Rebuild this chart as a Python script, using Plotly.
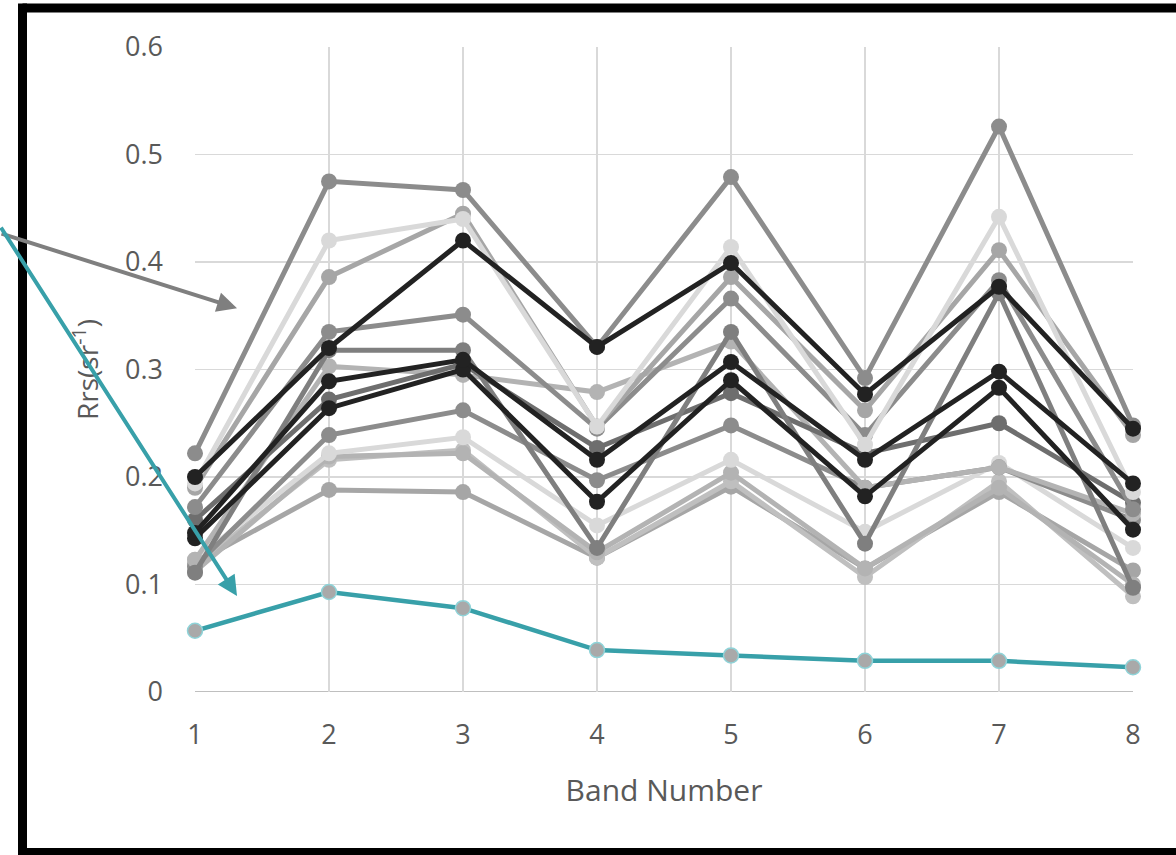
import plotly.graph_objects as go

bands = [1, 2, 3, 4, 5, 6, 7, 8]
y_ticks = [0, 0.1, 0.2, 0.3, 0.4, 0.5, 0.6]
y_tick_labels = ["0", "0.1", "0.2", "0.3", "0.4", "0.5", "0.6"]

s01 = [0.222, 0.475, 0.467, 0.321, 0.479, 0.292, 0.526, 0.248]
s02 = [0.200, 0.320, 0.420, 0.321, 0.399, 0.277, 0.377, 0.245]
s03 = [0.194, 0.420, 0.440, 0.247, 0.414, 0.230, 0.442, 0.186]
s04 = [0.190, 0.386, 0.445, 0.247, 0.386, 0.262, 0.411, 0.239]
s05 = [0.172, 0.335, 0.351, 0.245, 0.366, 0.239, 0.383, 0.170]
s06 = [0.111, 0.318, 0.318, 0.134, 0.335, 0.138, 0.371, 0.097]
s07 = [0.148, 0.289, 0.309, 0.216, 0.307, 0.216, 0.298, 0.194]
s08 = [0.143, 0.264, 0.300, 0.177, 0.290, 0.182, 0.283, 0.151]
s09 = [0.160, 0.272, 0.305, 0.227, 0.278, 0.222, 0.250, 0.176]
s10 = [0.123, 0.303, 0.295, 0.279, 0.326, 0.190, 0.209, 0.166]
s11 = [0.117, 0.239, 0.262, 0.197, 0.248, 0.190, 0.209, 0.160]
s12 = [0.123, 0.222, 0.237, 0.155, 0.216, 0.149, 0.213, 0.134]
s13 = [0.117, 0.216, 0.225, 0.125, 0.196, 0.107, 0.196, 0.089]
s14 = [0.120, 0.188, 0.186, 0.125, 0.191, 0.115, 0.186, 0.113]
s15 = [0.112, 0.219, 0.222, 0.130, 0.204, 0.115, 0.190, 0.100]
teal_series = [0.057, 0.093, 0.078, 0.039, 0.034, 0.029, 0.029, 0.023]

gray_series = [
    (s14, "#a6a6a6"), (s13, "#bfbfbf"), (s15, "#b3b3b3"), (s12, "#d9d9d9"),
    (s11, "#8c8c8c"), (s10, "#b3b3b3"), (s09, "#6e6e6e"), (s06, "#7f7f7f"),
    (s05, "#8c8c8c"), (s04, "#a6a6a6"), (s03, "#d9d9d9"), (s01, "#8c8c8c"),
    (s08, "#222222"), (s07, "#222222"), (s02, "#222222"),
]

fig = go.Figure()
for vals, col in gray_series:
    fig.add_trace(go.Scatter(
        x=bands, y=vals, mode="lines+markers",
        line=dict(color=col, width=5),
        marker=dict(color=col, size=16, symbol="circle", line=dict(width=0)),
        cliponaxis=False, showlegend=False, hoverinfo="skip"))

fig.add_trace(go.Scatter(
    x=bands, y=teal_series, mode="lines+markers",
    line=dict(color="#38a0a9", width=4.5),
    marker=dict(color="#a9a9a9", size=15, line=dict(color="#8fd3d8", width=1.5)),
    cliponaxis=False, showlegend=False, hoverinfo="skip"))

fig.update_layout(
    width=1176, height=855,
    margin=dict(l=195, r=43, t=47, b=163),
    paper_bgcolor="white", plot_bgcolor="white",
    font=dict(family="Open Sans", color="#595959"),
    showlegend=False,
)
fig.update_xaxes(
    range=[1, 8], tickvals=bands, ticktext=[str(b) for b in bands],
    showgrid=True, gridcolor="#d9d9d9", gridwidth=1.5,
    zeroline=False, showline=False, ticks="",
    tickfont=dict(size=27, color="#595959"), ticklabelstandoff=24,
    title=dict(text="Band Number", font=dict(size=30, color="#595959"), standoff=28),
)
fig.update_yaxes(
    range=[0, 0.6], tickvals=y_ticks, ticktext=y_tick_labels,
    showgrid=True, gridcolor="#d9d9d9", gridwidth=1.5,
    zeroline=False, showline=False, ticks="",
    tickfont=dict(size=27, color="#595959"), ticklabelstandoff=31,
    title=dict(text="Rrs(sr<sup>-1</sup>)", font=dict(size=28, color="#595959"), standoff=18),
)
# x axis baseline
fig.add_shape(type="line", xref="paper", yref="y", x0=0, x1=1, y0=0, y1=0,
              line=dict(color="#bfbfbf", width=2), layer="below")
# outer black frame (left, top, bottom edges; right edge lies outside the picture)
frame_left, frame_right, frame_bottom, frame_top = -0.1839, 1.1, -0.2488, 1.0605
for fx0, fy0, fx1, fy1 in [
    (frame_left, frame_bottom - 0.007, frame_left, frame_top + 0.007),
    (frame_left, frame_top, frame_right, frame_top),
    (frame_left, frame_bottom, frame_right, frame_bottom),
]:
    fig.add_shape(type="line", xref="paper", yref="paper",
                  x0=fx0, y0=fy0, x1=fx1, y1=fy1,
                  line=dict(color="black", width=9), layer="above")
# arrows
fig.add_annotation(xref="paper", yref="paper", x=0.0448, y=0.595,
                   ax=-240, ay=-75, axref="pixel", ayref="pixel",
                   showarrow=True, arrowhead=2, arrowsize=1, arrowwidth=4,
                   arrowcolor="#7f7f7f", text="")
fig.add_annotation(xref="paper", yref="paper", x=0.0448, y=0.1488,
                   ax=-240, ay=-370, axref="pixel", ayref="pixel",
                   showarrow=True, arrowhead=2, arrowsize=1, arrowwidth=4,
                   arrowcolor="#38a0a9", text="")

fig.write_html(
    "out.html",
    config={"displayModeBar": False, "staticPlot": True},
    post_script=("document.body.style.margin='0px';"
                 "document.body.style.overflow='hidden';"
                 "document.documentElement.style.overflow='hidden';"),
)
